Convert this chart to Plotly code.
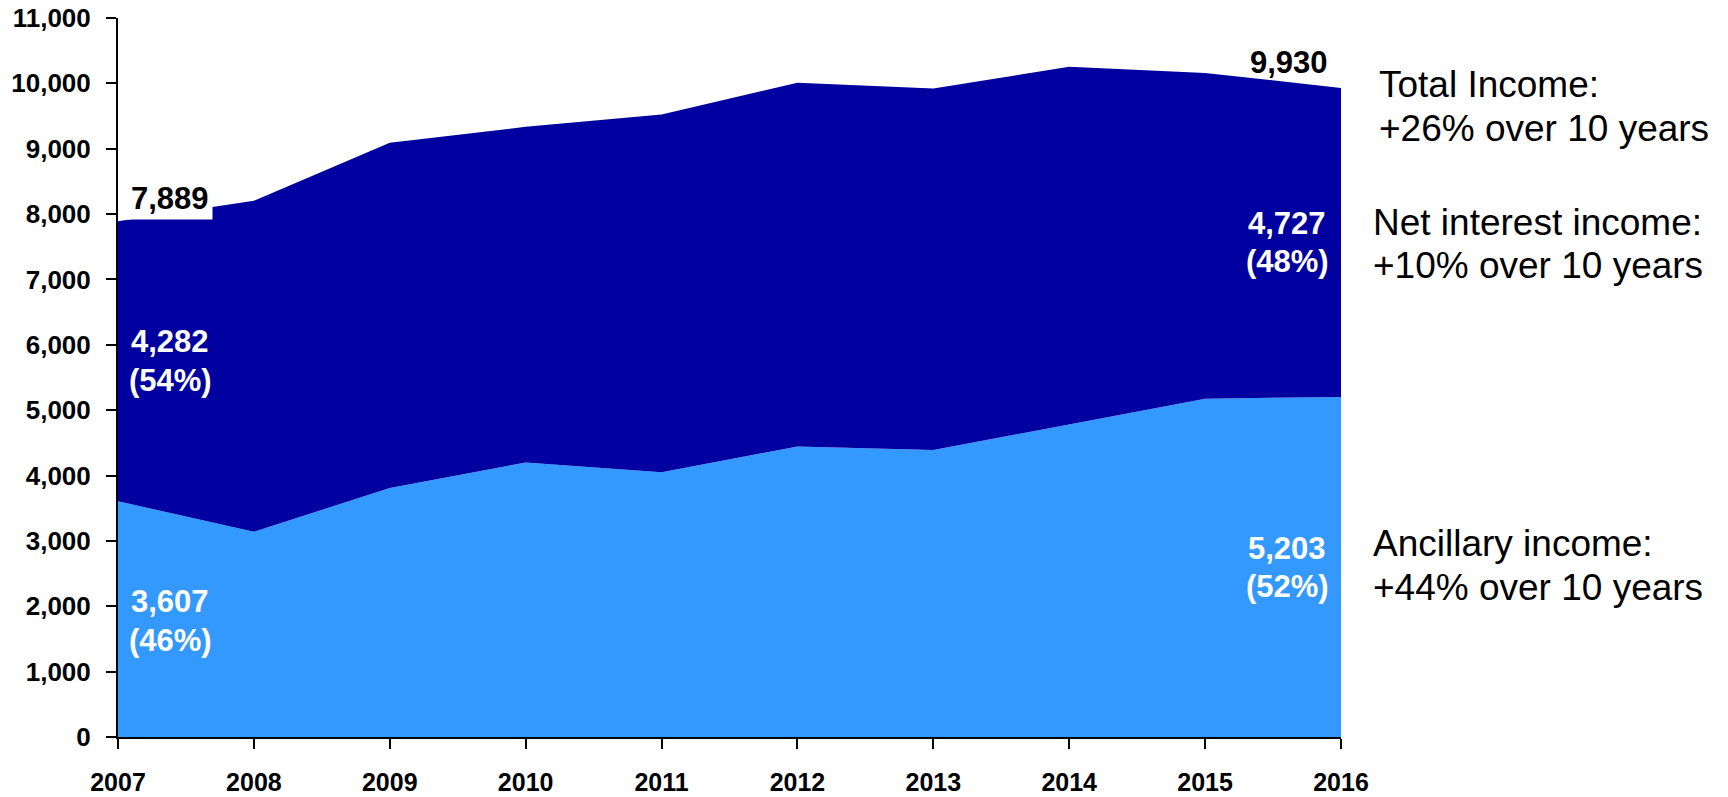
import plotly.graph_objects as go

# Income composition, 2007-2016
years = [2007, 2008, 2009, 2010, 2011, 2012, 2013, 2014, 2015, 2016]
ancillary = [3607, 3140, 3810, 4200, 4050, 4445, 4390, 4785, 5175, 5203]
net_interest = [4282, 5065, 5280, 5135, 5475, 5565, 5530, 5470, 4985, 4727]
total = [a + n for a, n in zip(ancillary, net_interest)]

y_ticks = list(range(0, 11001, 1000))

LIGHT = "rgb(51,153,255)"
DARK = "rgb(0,0,160)"
FONT = "Liberation Sans, Arial, sans-serif"

W, H = 1728, 797
L, R, T, B = 118, 387, 18, 60
plot_w = W - L - R
plot_h = H - T - B


def px_x(p):
    return (p - L) / plot_w


def px_y(p):
    return (H - B - p) / plot_h


def pct(part, whole):
    return round(part / whole * 100)


def growth(series):
    return round((series[-1] / series[0] - 1) * 100)


fig = go.Figure()
fig.add_trace(go.Scatter(
    x=years, y=ancillary, stackgroup="inc", mode="lines",
    line=dict(width=0, color=LIGHT), fillcolor=LIGHT,
    name="Ancillary income", hoverinfo="x+y",
))
fig.add_trace(go.Scatter(
    x=years, y=net_interest, stackgroup="inc", mode="lines",
    line=dict(width=0, color=DARK), fillcolor=DARK,
    name="Net interest income", hoverinfo="x+y",
))

ann = []

# Total labels at both ends
ann.append(dict(
    x=years[0], y=total[0], xref="x", yref="y",
    text=f"<b>{total[0]:,}</b>", showarrow=False,
    xanchor="center", yanchor="middle", xshift=52, yshift=23,
    font=dict(family=FONT, size=31, color="black"),
    bgcolor="white", borderpad=3,
))
ann.append(dict(
    x=years[-1], y=total[-1], xref="x", yref="y",
    text=f"<b>{total[-1]:,}</b>", showarrow=False,
    xanchor="center", yanchor="middle", xshift=-52, yshift=25,
    font=dict(family=FONT, size=31, color="black"),
))


def inner_label(year, xshift, value, whole, y_val_px, y_pct_px):
    ann.append(dict(
        x=year, y=px_y(y_val_px), xref="x", yref="paper",
        text=f"<b>{value:,}</b>", showarrow=False,
        xanchor="center", yanchor="middle", xshift=xshift,
        font=dict(family=FONT, size=31, color="white"),
    ))
    ann.append(dict(
        x=year, y=px_y(y_pct_px), xref="x", yref="paper",
        text=f"<b>({pct(value, whole)}%)</b>", showarrow=False,
        xanchor="center", yanchor="middle", xshift=xshift,
        font=dict(family=FONT, size=31, color="white"),
    ))


inner_label(years[0], 52, net_interest[0], total[0], 341.6, 380.6)
inner_label(years[0], 52, ancillary[0], total[0], 601.6, 640.6)
inner_label(years[-1], -54, net_interest[-1], total[-1], 223.9, 261.9)
inner_label(years[-1], -54, ancillary[-1], total[-1], 548.9, 586.9)

# Growth commentary on the right
side = [
    ("Total Income:", 1377, 84.9),
    (f"+{growth(total)}% over 10 years", 1377, 128.9),
    ("Net interest income:", 1371, 222.2),
    (f"+{growth(net_interest)}% over 10 years", 1371, 265.5),
    ("Ancillary income:", 1371, 543.2),
    (f"+{growth(ancillary)}% over 10 years", 1371, 587.2),
]
for txt, xp, yp in side:
    ann.append(dict(
        x=px_x(xp), y=px_y(yp), xref="paper", yref="paper",
        text=txt, showarrow=False, xanchor="left", yanchor="middle",
        font=dict(family=FONT, size=37, color="black"),
    ))

fig.update_layout(
    width=W, height=H, autosize=False,
    margin=dict(l=L, r=R, t=T, b=B, autoexpand=False),
    paper_bgcolor="white", plot_bgcolor="white",
    showlegend=False,
    annotations=ann,
    font=dict(family=FONT),
)
fig.update_xaxes(
    range=[years[0], years[-1]], tickmode="array", tickvals=years,
    ticktext=[str(y) for y in years],
    showline=True, linecolor="black", linewidth=2,
    ticks="outside", ticklen=10, tickwidth=2, tickcolor="black",
    tickfont=dict(family=FONT, size=25, color="black", weight="bold"),
    ticklabelstandoff=12, automargin=False,
    showgrid=False, zeroline=False,
)
fig.update_yaxes(
    range=[0, 11000], tickmode="array", tickvals=y_ticks,
    ticktext=[f"{v:,}" for v in y_ticks],
    showline=True, linecolor="black", linewidth=2,
    ticks="outside", ticklen=10, tickwidth=2, tickcolor="black",
    tickfont=dict(family=FONT, size=26, color="black", weight="bold"),
    ticklabelstandoff=10, automargin=False,
    showgrid=False, zeroline=False,
)

fig.write_html("out.html")
